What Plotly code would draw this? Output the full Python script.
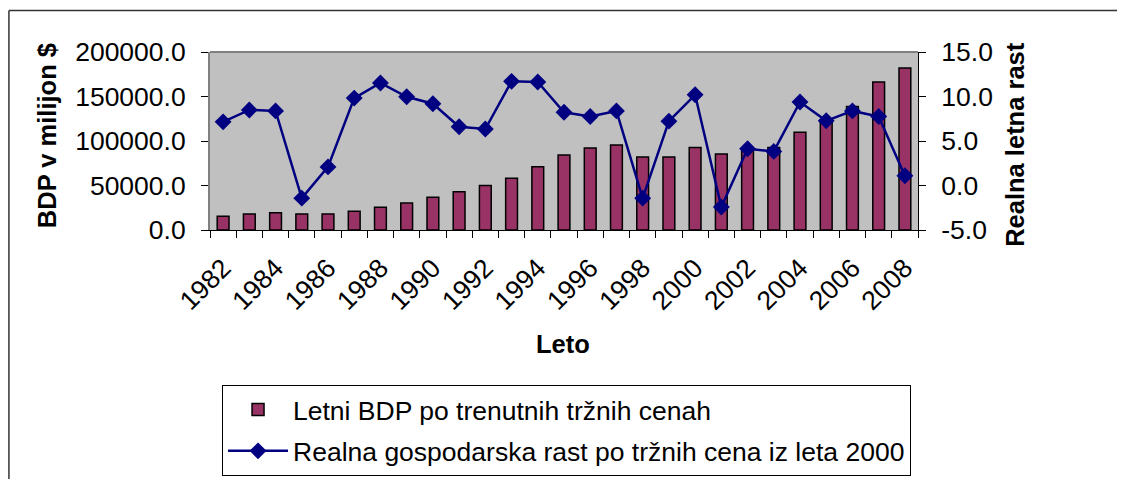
import plotly.graph_objects as go

# Data
years = list(range(1982, 2009))
bdp = [15500, 18000, 19500, 18000, 18000, 21000, 25700, 30200, 36800, 43100,
       50000, 58100, 71000, 84300, 92000, 95400, 82100, 82100, 92800, 85400,
       89000, 92800, 109700, 120400, 138800, 166400, 181900]
rast = [7.15, 8.49, 8.38, -1.42, 2.09, 9.82, 11.52, 9.97, 9.19, 6.6,
        6.35, 11.7, 11.63, 8.23, 7.75, 8.38, -1.42, 7.23, 10.19, -2.42,
        4.13, 3.83, 9.38, 7.27, 8.38, 7.75, 1.1]

left_ticks = [0, 50000, 100000, 150000, 200000]
left_text = ["0.0", "50000.0", "100000.0", "150000.0", "200000.0"]
right_ticks = [-5, 0, 5, 10, 15]
right_text = ["-5.0", "0.0", "5.0", "10.0", "15.0"]
year_ticks = years[::2]

font_style = dict(family="Liberation Sans, Arial", size=26.5, color="black")
font_bold = dict(family="Liberation Sans, Arial", size=25.5, color="black", weight="bold")

fig = go.Figure()

fig.add_trace(go.Bar(
    x=years, y=bdp,
    name="Letni BDP po trenutnih tržnih cenah",
    marker=dict(color="#993366", line=dict(color="black", width=1.5)),
    width=0.45,
    legendgroup="a",
))

fig.add_trace(go.Scatter(
    x=years, y=rast, yaxis="y2",
    mode="lines+markers",
    name="Realna gospodarska rast po tržnih cena iz leta 2000",
    line=dict(color="#000080", width=2.5),
    marker=dict(symbol="diamond", size=13, color="#000080"),
    legendgroup="b",
))

# page body adds an 8px offset, so margins are shifted to compensate
fig.update_layout(
    width=1125, height=479,
    margin=dict(l=202, r=215, t=44, b=255),
    paper_bgcolor="white",
    plot_bgcolor="#C0C0C0",
    font=font_style,
    showlegend=True,
    legend=dict(
        x=0.017, y=-0.869, xanchor="left", yanchor="top",
        bordercolor="black", borderwidth=1, bgcolor="white",
        font=font_style, tracegroupgap=4, traceorder="grouped",
        itemwidth=60,
    ),
    xaxis=dict(
        range=[1981.5, 2008.5],
        tickmode="array", tickvals=year_ticks,
        tickangle=-45,
        ticks="outside", ticklen=1, tickcolor="rgba(0,0,0,0)",
        ticklabelstandoff=10,
        minor=dict(tick0=1981.5, dtick=1, ticks="outside", ticklen=7,
                   tickcolor="black", showgrid=False),
        showline=True, linecolor="black", linewidth=1,
        showgrid=False, zeroline=False,
    ),
    yaxis=dict(
        range=[0, 200000],
        tickmode="array", tickvals=left_ticks, ticktext=left_text,
        ticks="outside", ticklen=7, tickcolor="black",
        ticklabelstandoff=10,
        showline=True, linecolor="#808080", linewidth=2,
        showgrid=False, zeroline=False,
    ),
    yaxis2=dict(
        range=[-5, 15], overlaying="y", side="right",
        tickmode="array", tickvals=right_ticks, ticktext=right_text,
        ticks="outside", ticklen=7, tickcolor="black",
        ticklabelstandoff=10,
        showline=True, linecolor="black", linewidth=1,
        showgrid=False, zeroline=False,
    ),
)

# plot area border and outer chart frame
fig.add_shape(type="line", xref="paper", yref="paper", x0=0, x1=1, y0=1, y1=1,
              line=dict(color="#808080", width=2))
fig.add_shape(type="line", xref="paper", yref="paper", x0=-0.284, x1=1.3,
              y0=1.233, y1=1.233, line=dict(color="#333333", width=1.5))
fig.add_shape(type="line", xref="paper", yref="paper", x0=-0.284, x1=-0.284,
              y0=1.233, y1=-1.4, line=dict(color="#333333", width=1.5))

# axis titles
fig.add_annotation(text="BDP v milijon $", xref="paper", yref="paper",
                   x=-0.230, y=0.528, xanchor="center", yanchor="middle",
                   textangle=-90, showarrow=False, font=font_bold)
fig.add_annotation(text="Realna letna rast", xref="paper", yref="paper",
                   x=1.137, y=0.484, xanchor="center", yanchor="middle",
                   textangle=-90, showarrow=False, font=font_bold)
fig.add_annotation(text="Leto", xref="paper", yref="paper",
                   x=0.499, y=-0.642, xanchor="center", yanchor="middle",
                   showarrow=False, font=font_bold)

fig.write_html("out.html")
